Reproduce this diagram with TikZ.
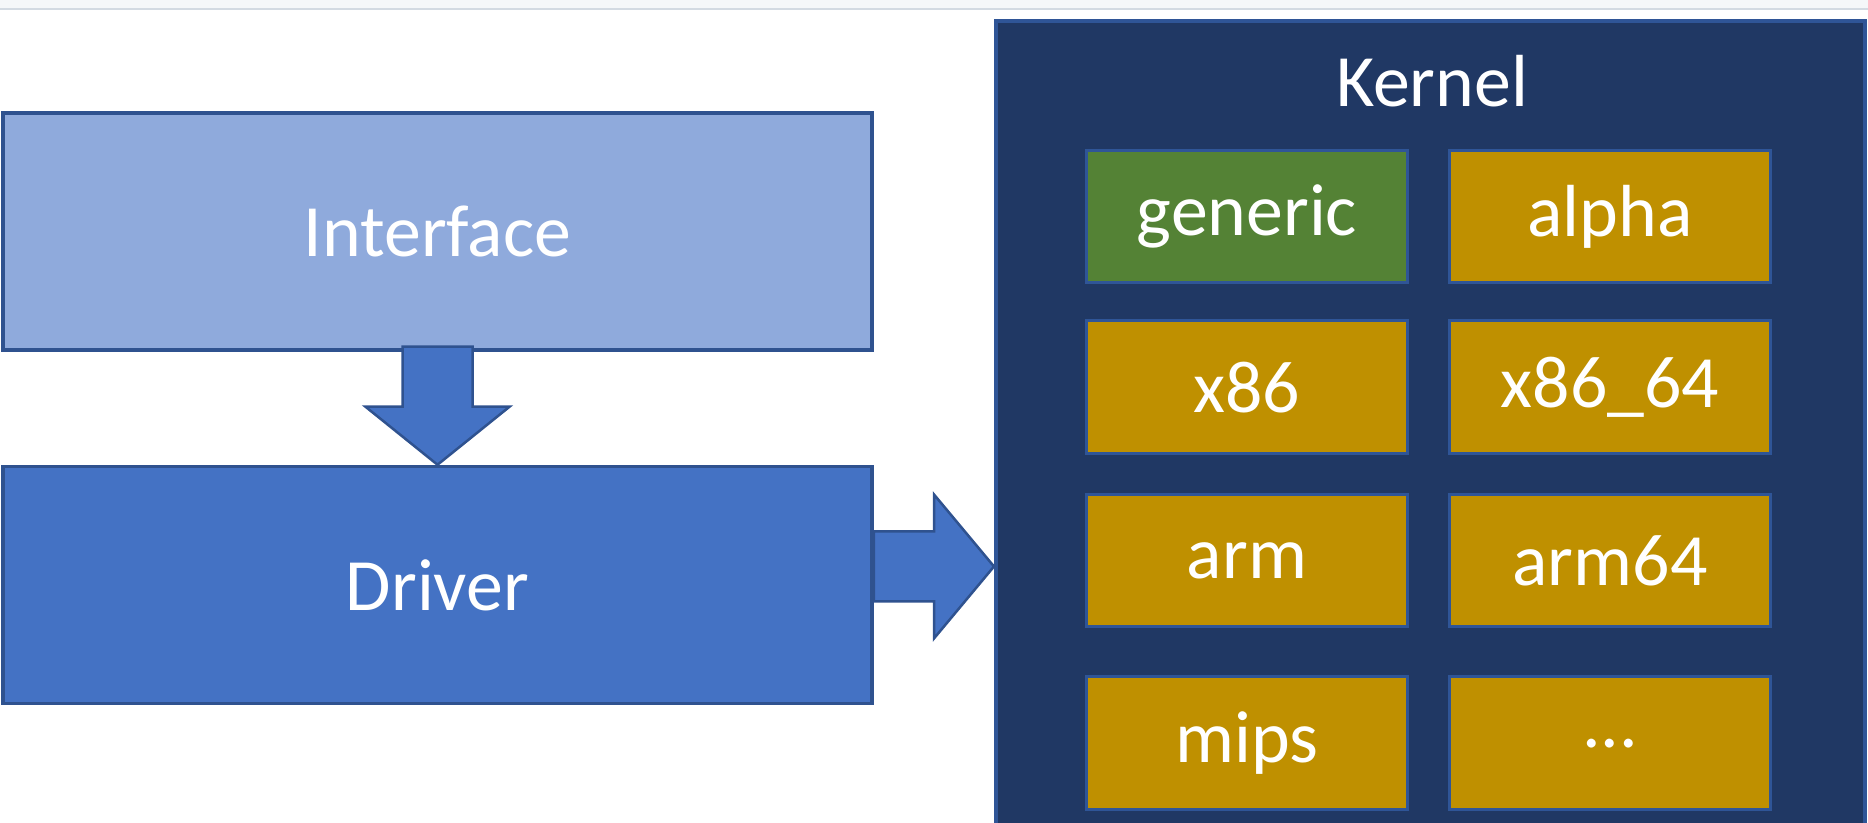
\documentclass[tikz,border=0pt]{standalone}
\usepackage{fontspec}
\setmainfont{Carlito}
\usepackage{tikz}
\usetikzlibrary{positioning,calc}

\definecolor{ifacefill}{HTML}{8FAADC}
\definecolor{drvfill}{HTML}{4472C4}
\definecolor{edgeblue}{HTML}{2F528F}
\definecolor{kernfill}{HTML}{203864}
\definecolor{kernedge}{HTML}{2F5597}
\definecolor{genfill}{HTML}{548235}
\definecolor{archfill}{HTML}{BF9000}
\definecolor{topband}{HTML}{F5F7F9}
\definecolor{topline}{HTML}{D3DAE2}

\begin{document}
\begin{tikzpicture}[
    x=0.1mm, y=-0.1mm,
    node distance=3.8mm and 3.9mm,
    bigfont/.style={font=\fontsize{21}{25}\selectfont},
    layer/.style={draw=edgeblue, line width=0.35mm, minimum width=86.9mm, minimum height=23.7mm, inner sep=0pt, text=white, bigfont},
    kernelbox/.style={draw=kernedge, line width=0.4mm, fill=kernfill, minimum width=86.9mm, minimum height=82mm, inner sep=0pt},
    arch/.style={draw=kernedge, line width=0.3mm, fill=archfill, minimum width=32.1mm, minimum height=13.25mm, inner sep=0pt, text=white, bigfont},
    blockarrow/.style={draw=edgeblue, line width=0.25mm, fill=drvfill, line join=miter},
]
\clip (0,0) rectangle (1868,823);

% window strip at the top
\fill[topband] (0,0) rectangle (1868,9);
\draw[topline, line width=0.2mm] (0,9.5) -- (1868,9.5);

% Left stack
\node[layer, fill=ifacefill] (iface) at (437.5,231.5) {Interface};
\node[layer, fill=drvfill, below=11.3mm of iface] (drv) {Driver};

% Kernel and its architectures
\node[kernelbox, anchor=north west] (kernel) at (994,19) {};
\node[text=white, bigfont, anchor=base, inner sep=0pt] (ktitle) at ($(kernel.north)+(1.5,88)$) {Kernel};

\node[arch, fill=genfill, anchor=north west] (generic) at (1085,149) {generic};
\node[arch, right=of generic] (alpha) {alpha};
\node[arch, below=3.5mm of generic] (x86) {x86};
\node[arch, below=3.5mm of alpha] (x8664) {x86\_64};
\node[arch, below=of x86] (arm) {arm};
\node[arch, below=of x8664] (arm64) {arm64};
\node[arch, below=4.7mm of arm] (mips) {mips};
\node[arch, below=4.7mm of arm64] (more) {...};

% Block arrows
\draw[blockarrow] ($(iface.south)+(-35,-5)$) -- ($(iface.south)+(35,-5)$)
    -- ($(drv.north)+(35,-58)$) -- ($(drv.north)+(72,-58)$) -- (drv.north)
    -- ($(drv.north)+(-72,-58)$) -- ($(drv.north)+(-35,-58)$) -- cycle;

\coordinate (rstart) at ($(drv.east)+(0,-18.5)$);
\coordinate (rtip) at (rstart -| kernel.west);
\draw[blockarrow] ($(rstart)+(0,-35)$) -- ($(rtip)+(-60,-35)$)
    -- ($(rtip)+(-60,-72)$) -- (rtip) -- ($(rtip)+(-60,72)$)
    -- ($(rtip)+(-60,35)$) -- ($(rstart)+(0,35)$) -- cycle;

\end{tikzpicture}
\end{document}
